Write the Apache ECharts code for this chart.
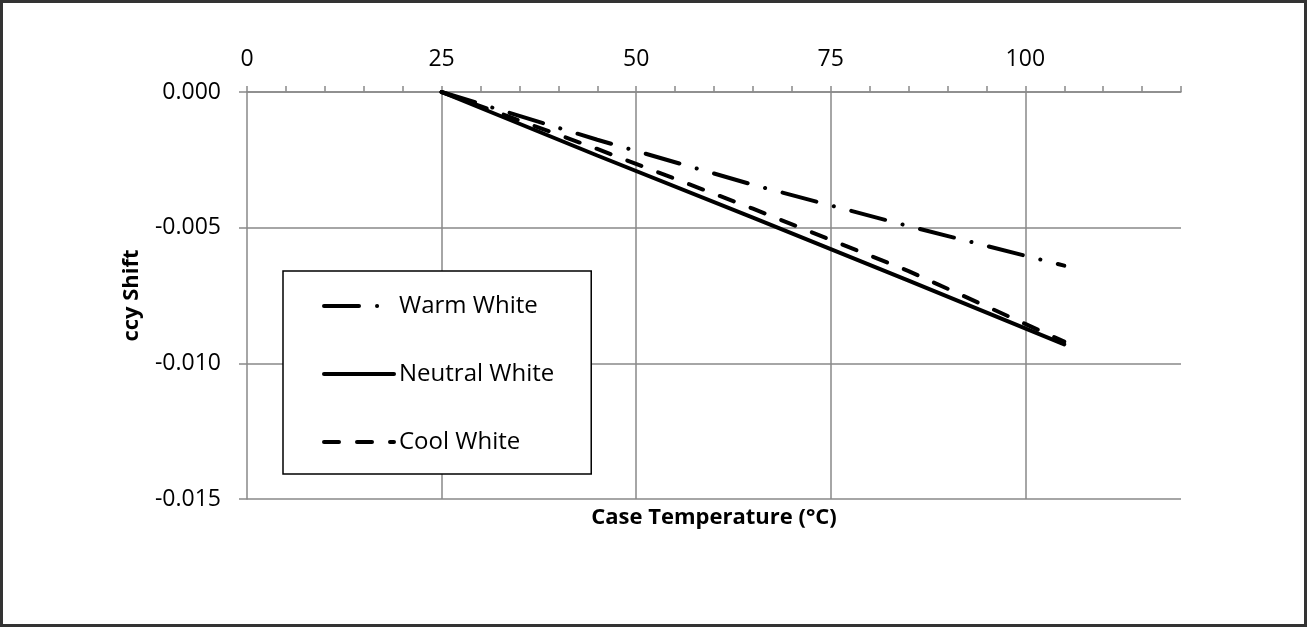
<!DOCTYPE html>
<html>
<head>
    <meta charset="utf-8">
    <title>ccy Shift vs Case Temperature</title>
    <script src="https://cdn.jsdelivr.net/npm/echarts@6/dist/echarts.min.js"></script>
    <style>
        html, body { margin: 0; padding: 0; background: #fff; }
    </style>
</head>
<body>
    <div id="main" style="width: 1307px;height:627px;"></div>
    <script type="text/javascript">

// case temperature (°C) where the shift was measured
var temps = [25, 45, 65, 85, 105];

// ccy shift per white point
var warmWhite = [0, -0.00176, -0.00342, -0.00494, -0.0064];
var neutralWhite = [0, -0.00234, -0.00463, -0.00695, -0.0093];
var coolWhite = [0, -0.0021, -0.0043, -0.0066, -0.0092];

var xLabels = [0, 25, 50, 75, 100];

var FONT = '"Open Sans", "Noto Sans", sans-serif';
var GRID_GREY = '#898989';

function pairs(ys) {
    return temps.map(function (t, i) { return [t, ys[i]]; });
}

var myChart = echarts.init(document.getElementById('main'));

var myOption = {
    animation: false,
    backgroundColor: '#fff',
    textStyle: { fontFamily: FONT },
    graphic: [{
        type: 'rect',
        shape: { x: 1.5, y: 1.5, width: 1304, height: 624 },
        style: { fill: 'none', stroke: '#333', lineWidth: 3 },
        silent: true
    }],
    grid: {
        left: 247,
        top: 92,
        right: 126,
        bottom: 128
    },
    legend: {
        orient: 'vertical',
        left: 283,
        top: 271,
        padding: [23, 37, 20, 39],
        itemWidth: 70,
        itemHeight: 26,
        itemGap: 44,
        borderColor: '#000',
        borderWidth: 1.5,
        backgroundColor: '#fff',
        itemStyle: { opacity: 0 },
        lineStyle: { width: 4, cap: 'round', opacity: 1 },
        textStyle: {
            fontFamily: FONT,
            fontSize: 24,
            color: '#000',
            width: 162
        },
        data: ['Warm White', 'Neutral White', 'Cool White']
    },
    xAxis: [
        {
            // top axis: labels and ticks every 5
            type: 'value',
            position: 'top',
            min: 0,
            max: 120,
            interval: 5,
            axisLine: { show: true, lineStyle: { color: GRID_GREY, width: 1.5 } },
            axisTick: { show: true, length: 6, lineStyle: { color: GRID_GREY, width: 1.5 } },
            axisLabel: {
                margin: 21,
                fontSize: 23,
                color: '#000',
                fontFamily: FONT,
                formatter: function (v) {
                    return xLabels.indexOf(v) >= 0 ? String(v) : '';
                }
            },
            splitLine: { show: false }
        },
        {
            // carries the vertical grid and the axis title under the plot
            type: 'value',
            position: 'bottom',
            min: 0,
            max: 120,
            interval: 25,
            name: 'Case Temperature (°C)',
            nameLocation: 'middle',
            nameGap: 8,
            nameTextStyle: {
                fontSize: 22,
                fontWeight: 'bold',
                color: '#000',
                fontFamily: FONT
            },
            axisLine: { show: false },
            axisTick: { show: false },
            axisLabel: { show: false },
            splitLine: {
                show: true,
                showMinLine: false,
                showMaxLine: false,
                lineStyle: { color: GRID_GREY, width: 1.5 }
            }
        }
    ],
    yAxis: {
        type: 'value',
        min: -0.015,
        max: 0,
        interval: 0.005,
        name: 'ccy Shift',
        nameLocation: 'middle',
        nameGap: 104,
        nameRotate: 90,
        nameTextStyle: {
            fontSize: 22,
            fontWeight: 'bold',
            color: '#000',
            fontFamily: FONT
        },
        axisLine: { show: true, lineStyle: { color: GRID_GREY, width: 1.5 } },
        axisTick: { show: true, length: 8, lineStyle: { color: GRID_GREY, width: 1.5 } },
        axisLabel: {
            margin: 26,
            fontSize: 23,
            color: '#000',
            fontFamily: FONT,
            formatter: function (v) {
                return (Math.abs(v) < 1e-12 ? 0 : v).toFixed(3);
            }
        },
        splitLine: {
            show: true,
            lineStyle: { color: GRID_GREY, width: 1.5 }
        }
    },
    series: [
        {
            name: 'Warm White',
            type: 'line',
            xAxisIndex: 0,
            symbol: 'none',
            z: 3,
            data: pairs(warmWhite),
            lineStyle: { color: '#000', width: 4, type: [35, 18, 0.1, 18], cap: 'round' },
            itemStyle: { color: '#000' }
        },
        {
            name: 'Neutral White',
            type: 'line',
            xAxisIndex: 0,
            symbol: 'none',
            z: 4,
            data: pairs(neutralWhite),
            lineStyle: { color: '#000', width: 4, type: 'solid', cap: 'round' },
            itemStyle: { color: '#000' }
        },
        {
            name: 'Cool White',
            type: 'line',
            xAxisIndex: 0,
            symbol: 'none',
            z: 3,
            data: pairs(coolWhite),
            lineStyle: { color: '#000', width: 4, type: [15, 18], cap: 'round' },
            itemStyle: { color: '#000' }
        }
    ]
};

myChart.setOption(myOption);
    </script>
</body>
</html>
